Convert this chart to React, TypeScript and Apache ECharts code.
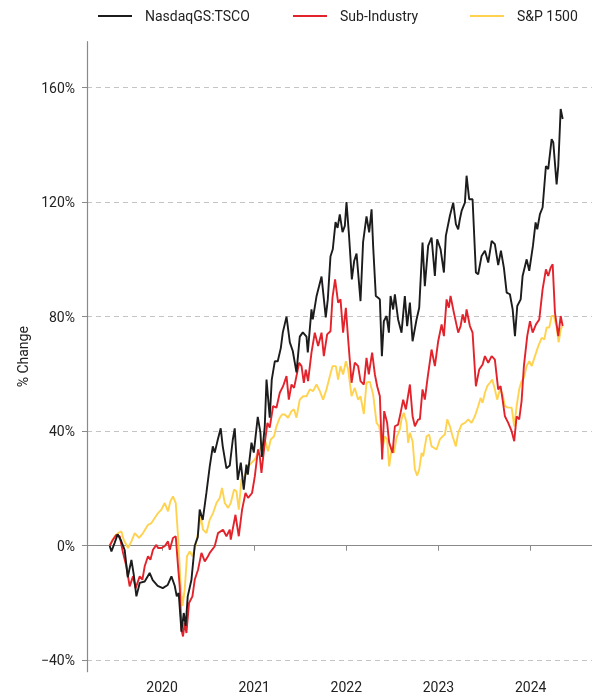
import React, { useEffect, useRef } from "react";
import * as echarts from "echarts";

const seriesNames = ["NasdaqGS:TSCO", "Sub-Industry", "S&P 1500"];
const yTickValues = [-40, 0, 40, 80, 120, 160];
const xTickYears = [2020, 2021, 2022, 2023, 2024];

const tscoYears = [2019.432,2019.451,2019.486,2019.519,2019.552,2019.595,2019.628,2019.668,2019.693,2019.722,2019.758,2019.812,2019.866,2019.899,2019.953,2020.008,2020.062,2020.102,2020.138,2020.160,2020.181,2020.211,2020.236,2020.257,2020.279,2020.319,2020.355,2020.388,2020.409,2020.442,2020.482,2020.518,2020.551,2020.572,2020.605,2020.637,2020.659,2020.699,2020.735,2020.768,2020.789,2020.822,2020.855,2020.887,2020.916,2020.931,2020.971,2020.996,2021.039,2021.068,2021.083,2021.115,2021.134,2021.169,2021.191,2021.224,2021.256,2021.289,2021.311,2021.351,2021.387,2021.419,2021.459,2021.495,2021.528,2021.568,2021.582,2021.622,2021.636,2021.676,2021.731,2021.777,2021.799,2021.828,2021.853,2021.883,2021.905,2021.929,2021.959,2021.984,2022.002,2022.030,2022.060,2022.085,2022.111,2022.154,2022.182,2022.219,2022.248,2022.274,2022.291,2022.320,2022.345,2022.364,2022.386,2022.407,2022.437,2022.462,2022.480,2022.508,2022.527,2022.562,2022.599,2022.635,2022.660,2022.690,2022.719,2022.762,2022.791,2022.827,2022.852,2022.888,2022.925,2022.961,2022.986,2023.023,2023.059,2023.080,2023.124,2023.160,2023.189,2023.214,2023.232,2023.251,2023.287,2023.305,2023.333,2023.370,2023.406,2023.431,2023.468,2023.504,2023.540,2023.577,2023.612,2023.648,2023.678,2023.710,2023.740,2023.775,2023.805,2023.830,2023.855,2023.892,2023.913,2023.957,2023.985,2024.025,2024.054,2024.072,2024.101,2024.130,2024.166,2024.191,2024.228,2024.246,2024.282,2024.300,2024.326,2024.348];
const tscoValues = [0,-2,1,4,2,-1.5,-11,-5,-10,-17.7,-13,-12.5,-9.5,-12,-14,-14.8,-13.7,-10.7,-14,-17.7,-16.5,-30,-23.5,-28,-17.7,-12,0,3,12.6,9,18.5,27.7,34.7,32.5,37,41,34.7,27,28,37,41,23,29,19.6,28.3,24.8,36,32.5,45,39.5,31,41.7,58,44.7,58,64.4,64.4,69,74.5,80,71,68,60.5,73,74.5,73,67.5,82.5,79,87,94,79.7,86,101,103.5,113,111,115.7,109.5,111.7,120,108,93,99.4,102,85.4,106,115,109.4,117.5,104.7,87.2,86.6,86,66.2,78.4,80.2,74.4,87.2,82.5,87.8,79,74.4,87.2,76.7,84.9,71.4,79,83.1,105.9,90.6,104.7,107.6,94.2,107,103.5,95.4,108.2,115.2,119.8,112.3,110.5,114,116.9,119.8,129.2,121,121,95.4,94.8,101.2,103,98.9,106.4,105.3,98,103,97,88.4,87.8,82.5,73.2,83.7,86,94.2,100,96,104.7,112.9,110.5,115.8,118.1,132.6,131.5,142,140.8,126.2,132.6,152.5,149];

const subYears = [2019.432,2019.465,2019.505,2019.541,2019.577,2019.613,2019.649,2019.685,2019.714,2019.758,2019.787,2019.812,2019.848,2019.874,2019.902,2019.939,2019.957,2019.993,2020.029,2020.065,2020.084,2020.119,2020.149,2020.174,2020.192,2020.211,2020.228,2020.246,2020.265,2020.293,2020.330,2020.355,2020.391,2020.428,2020.464,2020.499,2020.518,2020.572,2020.608,2020.662,2020.699,2020.735,2020.746,2020.797,2020.833,2020.869,2020.906,2020.934,2020.977,2021.007,2021.042,2021.061,2021.079,2021.115,2021.144,2021.169,2021.205,2021.242,2021.278,2021.314,2021.351,2021.376,2021.405,2021.433,2021.459,2021.488,2021.514,2021.539,2021.560,2021.585,2021.622,2021.658,2021.694,2021.731,2021.756,2021.792,2021.828,2021.850,2021.878,2021.911,2021.937,2021.965,2021.995,2022.020,2022.057,2022.092,2022.128,2022.154,2022.190,2022.219,2022.244,2022.280,2022.310,2022.335,2022.364,2022.389,2022.411,2022.443,2022.465,2022.502,2022.527,2022.562,2022.589,2022.617,2022.646,2022.690,2022.719,2022.744,2022.780,2022.798,2022.827,2022.852,2022.882,2022.925,2022.961,2022.997,2023.034,2023.059,2023.088,2023.113,2023.131,2023.167,2023.214,2023.240,2023.262,2023.287,2023.305,2023.341,2023.370,2023.406,2023.442,2023.479,2023.504,2023.540,2023.577,2023.612,2023.648,2023.674,2023.696,2023.721,2023.757,2023.794,2023.822,2023.848,2023.876,2023.902,2023.927,2023.963,2023.993,2024.022,2024.058,2024.094,2024.130,2024.166,2024.191,2024.217,2024.239,2024.264,2024.300,2024.326,2024.348];
const subValues = [0,2,3.8,3.3,-2.5,-7.2,-14.2,-10.7,-14.8,-10.7,-11.9,-7.2,-3.7,-4.9,-1.4,0.3,-0.8,-0.8,-0.2,1.5,-1.4,2.7,3.3,-7.2,-14.2,-29.4,-31.7,-27,-30.5,-20,-17.7,-11.9,-8.4,-2.5,-5.5,-3.7,-2.5,-0.2,4.4,5.6,3.3,5.6,2.1,10.8,3.3,12.6,18.4,16.7,18.4,24.2,33.6,31.2,25.4,35.9,42.9,41.2,48.7,48.2,53.4,55.7,59.2,51,56.3,55.1,59.2,63.9,62.7,56.9,61.5,57.5,67.4,74.4,69.7,74.4,66.2,73.8,74.9,86.6,93,84.9,86,74.4,83.1,72,56.9,63.9,62.7,57.5,56.3,65.6,59.8,67.4,59.8,55.7,52.2,30.1,47,42.9,36,32.4,41.7,42.3,46.4,51,47.6,56.3,45.2,41.7,44.1,44.1,54.6,51,58.6,68.5,62.7,71.4,77.3,73.2,86,83.1,87.2,81.4,74.4,76.7,80.8,77.9,82.5,76.7,74.4,55.7,61.5,63.3,66.2,63.9,66.2,65,54.6,55.7,51,45.2,42.9,40,36.5,45.2,44.1,50.5,62.7,73.2,78.4,74.4,77.3,79,89.5,96.5,94.2,97.1,98.3,81.4,73.2,80.2,76.7];

const spYears = [2019.432,2019.486,2019.522,2019.559,2019.584,2019.631,2019.668,2019.704,2019.750,2019.794,2019.848,2019.885,2019.921,2019.957,2019.993,2020.029,2020.065,2020.091,2020.119,2020.149,2020.174,2020.200,2020.222,2020.246,2020.271,2020.301,2020.330,2020.355,2020.391,2020.420,2020.445,2020.482,2020.518,2020.554,2020.591,2020.627,2020.651,2020.681,2020.717,2020.746,2020.782,2020.808,2020.833,2020.862,2020.898,2020.934,2020.971,2021.007,2021.042,2021.079,2021.115,2021.151,2021.180,2021.216,2021.242,2021.278,2021.303,2021.332,2021.368,2021.405,2021.433,2021.459,2021.495,2021.531,2021.568,2021.604,2021.640,2021.676,2021.712,2021.748,2021.785,2021.821,2021.850,2021.886,2021.911,2021.937,2021.965,2021.995,2022.020,2022.057,2022.092,2022.128,2022.154,2022.190,2022.219,2022.255,2022.291,2022.328,2022.356,2022.393,2022.418,2022.443,2022.465,2022.491,2022.516,2022.545,2022.581,2022.599,2022.624,2022.654,2022.671,2022.690,2022.719,2022.744,2022.769,2022.791,2022.817,2022.834,2022.871,2022.899,2022.925,2022.950,2022.979,2023.015,2023.045,2023.070,2023.095,2023.124,2023.153,2023.189,2023.214,2023.251,2023.287,2023.323,2023.359,2023.395,2023.431,2023.457,2023.479,2023.504,2023.529,2023.558,2023.583,2023.612,2023.637,2023.667,2023.696,2023.721,2023.757,2023.794,2023.822,2023.848,2023.876,2023.902,2023.927,2023.957,2023.985,2024.011,2024.047,2024.083,2024.120,2024.148,2024.174,2024.202,2024.228,2024.253,2024.282,2024.304,2024.326,2024.343];
const spValues = [0,3.3,4.4,5,2.1,-0.8,1.5,4.4,2.7,4.4,7.3,7.9,9.7,11.4,12.6,14.9,12,15.5,17.2,14.9,3.3,-13,-21,-15.4,-3.7,-2,-3.7,-1,4.4,10.2,5.6,4.4,9.1,11.4,14.9,16.7,20.2,14.9,13.2,14.9,19.6,19,12.6,23.1,24.2,27.7,28.9,30.1,32.4,34.7,37.1,33,37.1,38.2,41.7,44.7,45.8,45.8,44.7,47,47.6,44.7,51,52.2,52.2,54.6,54,56.3,54,51,54.6,59.2,62.7,62.7,58,62.7,59.8,64.4,61.5,52.2,55.1,51,52.2,46,56.9,57.3,52.8,42.9,41.7,34,38.2,37.1,27.7,33.6,32.4,37.7,40.6,44.1,46.4,42.9,35.9,39.4,36.5,26.6,24.5,26.6,32.4,31.2,38.2,38.8,34.7,34.2,33.6,37.1,38.2,38.8,44.1,41.7,38.2,34.7,39.4,42.3,42.9,44.1,42.9,45.2,48.7,51.6,49.9,53.4,55.7,56.9,58,54.6,51,54.6,52.8,48.7,48.2,48.2,41.7,48.7,54.6,57.5,58.6,62.7,64.4,62.7,66.2,69.7,72.6,72,76.2,76.2,80.2,80.2,76.2,71,75.5,76.7];

const seriesColors = ["#1c1c1c", "#e3232b", "#ffd34f"];
const legendLefts = [93, 288, 465];

function pairs(xs: number[], ys: number[]) {
  return xs.map((x, i) => [x, ys[i]]);
}

export default function App() {
  const ref = useRef<HTMLDivElement>(null);
  useEffect(() => {
    if (!ref.current) return;
    const chart = echarts.init(ref.current, null, { renderer: "svg" });
    const font = "Roboto, 'DejaVu Sans', sans-serif";
    const axisGray = "#8a8a8a";
    const datasets = [
      pairs(tscoYears, tscoValues),
      pairs(subYears, subValues),
      pairs(spYears, spValues),
    ];
    chart.setOption({
      animation: false,
      textStyle: { fontFamily: font },
      legend: seriesNames.map((name, i) => ({
        top: 4,
        left: legendLefts[i],
        itemWidth: 34,
        itemHeight: 2,
        icon: "rect",
        textStyle: { fontSize: 14, color: "#222", fontFamily: font, padding: [0, 0, 0, 8] },
        data: [name],
      })),
      grid: { left: 87, right: 0, top: 41.7, bottom: 26.3, containLabel: false },
      xAxis: {
        type: "value",
        min: 2019.186,
        max: 2024.666,
        axisLine: { show: true, lineStyle: { color: axisGray, width: 1.2 } },
        axisTick: { show: true, length: 5, lineStyle: { color: axisGray }, customValues: xTickYears },
        axisLabel: { customValues: xTickYears, fontSize: 14, color: "#222", margin: 8, formatter: (v: number) => String(Math.round(v)) },
        splitLine: { show: false },
      },
      yAxis: {
        type: "value",
        min: -44,
        max: 176,
        name: "% Change",
        nameLocation: "middle",
        nameGap: 57,
        nameRotate: 90,
        nameTextStyle: { fontSize: 14, color: "#222", fontFamily: font },
        axisLine: { show: true, lineStyle: { color: axisGray, width: 1.2 } },
        axisTick: { show: true, length: 5, lineStyle: { color: axisGray }, customValues: yTickValues },
        axisLabel: { customValues: yTickValues, fontSize: 14, color: "#222", margin: 12, formatter: (v: number) => (v < 0 ? "\u2212" + Math.abs(v) : v) + "%" },
        splitLine: { show: true, lineStyle: { color: "#c4c4c4", type: [5, 4], width: 1 } },
      },
      series: seriesNames.map((name, i) => ({
        name,
        type: "line",
        data: datasets[i],
        showSymbol: false,
        symbol: "none",
        z: 10 - i,
        lineStyle: { color: seriesColors[i], width: 1.9 },
        itemStyle: { color: seriesColors[i] },
      })),
    });
    return () => chart.dispose();
  }, []);
  return <div ref={ref} style={{ position: "fixed", left: 0, top: 0, width: 592, height: 698 }} />;
}
